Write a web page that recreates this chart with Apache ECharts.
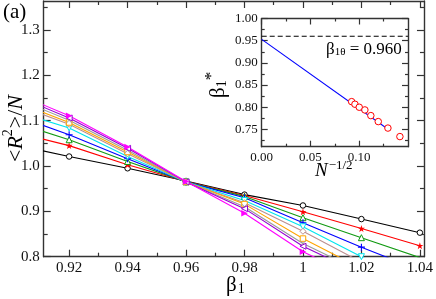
<!DOCTYPE html>
<html><head><meta charset="utf-8">
<script src="https://cdn.jsdelivr.net/npm/echarts@6/dist/echarts.min.js"></script>
<style>html,body{margin:0;padding:0;background:#fff}#c{width:436px;height:299px}</style>
</head><body><div id="c"></div>
<script>
// ---- data ----
const betaX = [0.90, 0.92, 0.94, 0.96, 0.98, 1.00, 1.02, 1.04];
const sBlack   = [1.049, 1.021, 0.995, 0.967, 0.937, 0.913, 0.883, 0.853];
const sRed     = [1.077, 1.045, 1.003, 0.966, 0.935, 0.899, 0.862, 0.824];
const sGreen   = [1.099, 1.058, 1.010, 0.965, 0.933, 0.886, 0.842, 0.798];
const sBlue    = [1.115, 1.069, 1.016, 0.965, 0.930, 0.875, 0.821, 0.770];
const sCyan    = [1.124, 1.084, 1.021, 0.965, 0.924, 0.866, 0.800, 0.745];
const sTan     = [1.140, 1.092, 1.027, 0.965, 0.919, 0.856, 0.788, 0.725];
const sOrange  = [1.146, 1.096, 1.031, 0.965, 0.916, 0.840, 0.774, 0.710];
const sGray    = [1.154, 1.101, 1.035, 0.965, 0.910, 0.829, 0.767, 0.700];
const sPurple  = [1.160, 1.106, 1.039, 0.965, 0.906, 0.823, 0.762, 0.690];
const sMagenta = [1.165, 1.111, 1.042, 0.966, 0.896, 0.811, 0.750, 0.680];

const mainXMajor = [0.92, 0.94, 0.96, 0.98, 1.00, 1.02, 1.04];
const mainXMinor = [0.93, 0.95, 0.97, 0.99, 1.01, 1.03];
const mainYMajor = [0.8, 0.9, 1.0, 1.1, 1.2, 1.3];
const mainYMinor = [0.85, 0.95, 1.05, 1.15, 1.25, 1.35];

const insetX = [0.0922, 0.0956, 0.1000, 0.1058, 0.1119, 0.1195, 0.1294, 0.1417];
const insetY = [0.8126, 0.8068, 0.8000, 0.7939, 0.7811, 0.7676, 0.7530, 0.7338];
const fitX = [0, 0.131];
const fitY = [0.953, 0.748];
const beta1Theta = 0.960;
const insetXMajor = [0.00, 0.05, 0.10];
const insetXMinor = [0.025, 0.075, 0.125];
const insetYMajor = [0.75, 0.80, 0.85, 0.90, 0.95, 1.00];
const insetYMinor = [0.725, 0.775, 0.825, 0.875, 0.925, 0.975];

// ---- styling ----
const SERIF = '"Liberation Serif", "DejaVu Serif", serif';
const FRAME = '#333';
const starPath = 'path://M5,0 L6.2,3.6 L10,3.6 L6.9,5.8 L8.1,9.5 L5,7.2 L1.9,9.5 L3.1,5.8 L0,3.6 L3.8,3.6 Z';
const plusPath = 'path://M4.2,0H5.8V4.2H10V5.8H5.8V10H4.2V5.8H0V4.2H4.2Z';
const xPath = 'path://M1,0L5,4L9,0L10,1L6,5L10,9L9,10L5,6L1,10L0,9L4,5L0,1Z';

// open: true -> white fill, coloured outline
const seriesDefs = [
  {d: sBlack,   c: '#000000', sym: 'circle', open: true, size: 5.5},
  {d: sRed,     c: '#ff0000', sym: starPath, size: 7},
  {d: sGreen,   c: '#119a11', sym: 'triangle', open: true, size: 6},
  {d: sBlue,    c: '#0000ff', sym: plusPath, size: 7},
  {d: sCyan,    c: '#00e5ee', sym: 'triangle', open: true, size: 6, rot: 180},
  {d: sTan,     c: '#bc8f8f', sym: 'diamond', open: true, size: 6},
  {d: sOrange,  c: '#ffa500', sym: 'rect', open: true, size: 5.5},
  {d: sGray,    c: '#9a9a9a', sym: xPath, size: 5.5},
  {d: sPurple,  c: '#9400d3', sym: 'triangle', open: true, size: 6, rot: 90},
  {d: sMagenta, c: '#ff00ff', sym: 'triangle', size: 6.5, rot: -90}
];

const MX = {min: 0.9113, max: 1.0414};
const MY = {min: 0.8, max: 1.364};
const IX = {min: 0, max: 0.15};
const IY = {min: 0.711, max: 1.0};

function axis(base, extra) { return Object.assign({
  type: 'value', splitLine: {show: false}, scale: true,
  axisLine: {show: true, onZero: false, lineStyle: {color: FRAME, width: 1.4}},
  axisLabel: {show: false}, axisTick: {show: false}
}, base, extra); }

function tickAxis(kind, grid, pos, range, major, minor, labels, labelFmt, fs, majorLen, minorLen) {
  const arr = [];
  arr.push(axis(Object.assign({gridIndex: grid, position: pos}, range), {
    axisTick: {show: true, inside: true, length: majorLen, customValues: major, lineStyle: {color: FRAME, width: 1.2}},
    axisLabel: labels ? {show: true, customValues: major, formatter: labelFmt, color: '#111', fontFamily: SERIF, fontSize: fs, margin: 4} : {show: false}
  }));
  arr.push(axis(Object.assign({gridIndex: grid, position: pos}, range), {
    axisLine: {show: false, onZero: false},
    axisTick: {show: true, inside: true, length: minorLen, customValues: minor, lineStyle: {color: FRAME, width: 1.2}}
  }));
  return arr;
}

const xAxes = [].concat(
  tickAxis('x', 0, 'bottom', MX, mainXMajor, mainXMinor, true, v => Math.abs(v - 1) < 1e-9 ? '1' : v.toFixed(2), 15, 7, 4),
  tickAxis('x', 0, 'top', MX, mainXMajor, mainXMinor, false, null, 15, 7, 4),
  tickAxis('x', 1, 'bottom', IX, insetXMajor, insetXMinor, true, v => v.toFixed(2), 13, 6, 3),
  tickAxis('x', 1, 'top', IX, insetXMajor, insetXMinor, false, null, 13, 6, 3)
);
const yAxes = [].concat(
  tickAxis('y', 0, 'left', MY, mainYMajor, mainYMinor, true, v => v.toFixed(1), 15, 7, 4),
  tickAxis('y', 0, 'right', MY, mainYMajor, mainYMinor, false, null, 15, 7, 4),
  tickAxis('y', 1, 'left', IY, insetYMajor, insetYMinor, true, v => v.toFixed(2), 13, 6, 3),
  tickAxis('y', 1, 'right', IY, insetYMajor, insetYMinor, false, null, 13, 6, 3)
);

const series = seriesDefs.map(s => ({
  type: 'line', xAxisIndex: 0, yAxisIndex: 0,
  data: betaX.map((x, i) => [x, s.d[i]]),
  symbol: s.sym, symbolSize: s.size, symbolRotate: s.rot || 0, showAllSymbol: true,
  clip: true, silent: true, animation: false,
  lineStyle: {color: s.c, width: 1.1, type: 'solid'},
  itemStyle: s.open ? {color: '#ffffff', borderColor: s.c, borderWidth: 1} : {color: s.c, borderWidth: 0}
}));

series.push({
  type: 'line', xAxisIndex: 4, yAxisIndex: 4, animation: false, silent: true, z: 5,
  data: fitX.map((x, i) => [x, fitY[i]]), symbol: 'none',
  lineStyle: {color: '#0000ff', width: 1.1, type: 'solid'}
});
series.push({
  type: 'scatter', xAxisIndex: 4, yAxisIndex: 4, animation: false, silent: true, z: 6,
  data: insetX.map((x, i) => [x, insetY[i]]),
  symbol: 'circle', symbolSize: 6.5,
  itemStyle: {color: '#ffffff', borderColor: '#ff0000', borderWidth: 1, opacity: 1}
});
series.push({
  type: 'line', xAxisIndex: 4, yAxisIndex: 4, animation: false, silent: true, z: 5,
  data: [[IX.min, beta1Theta], [IX.max, beta1Theta]], symbol: 'none',
  lineStyle: {color: '#000', width: 1.2, type: [5, 3]}
});

const chart = echarts.init(document.getElementById('c'), null, {renderer: 'canvas'});
chart.setOption({
  backgroundColor: '#fff',
  animation: false,
  grid: [
    {left: 43.7, right: 10.7, top: 1, bottom: 42.3, show: false},
    {left: 261.7, right: 28, top: 18.5, bottom: 152.3, show: true, backgroundColor: '#fff', borderWidth: 0}
  ],
  xAxis: xAxes,
  yAxis: yAxes,
  series: series,
  graphic: [
    {type: 'text', left: 3, top: 2, style: {text: '(a)', font: '21px ' + SERIF, fill: '#000'}},
    {type: 'text', x: 226, y: 270, style: {
      text: '{b|β}{s|1}', fill: '#000',
      rich: {b: {fontFamily: SERIF, fontSize: 21, verticalAlign: 'bottom', lineHeight: 26}, s: {fontFamily: SERIF, fontSize: 14, verticalAlign: 'bottom', lineHeight: 18, padding: [0,0,0,1]}}
    }},
    {type: 'text', x: 1, y: 162, rotation: Math.PI / 2, style: {
      text: '{n|<}{i|R}{p|2}{n|>/}{i|N}', fill: '#000',
      rich: {
        n: {fontFamily: SERIF, fontSize: 22, verticalAlign: 'bottom', lineHeight: 26},
        i: {fontFamily: SERIF, fontStyle: 'italic', fontSize: 22, verticalAlign: 'bottom', lineHeight: 26},
        p: {fontFamily: SERIF, fontSize: 14, verticalAlign: 'top', lineHeight: 26, padding: [0,1,0,0]}
      }
    }},
    {type: 'text', x: 203, y: 98, rotation: Math.PI / 2, z: 10, style: {
      text: '{b|β}{s|1}{p|*}', fill: '#000',
      rich: {
        b: {fontFamily: SERIF, fontSize: 21, verticalAlign: 'bottom', lineHeight: 26},
        s: {fontFamily: SERIF, fontSize: 14, verticalAlign: 'bottom', lineHeight: 20},
        p: {fontFamily: SERIF, fontSize: 17, verticalAlign: 'top', lineHeight: 26}
      }
    }},
    {type: 'text', x: 315, y: 159, z: 10, style: {
      text: '{i|N}{p|−1/2}', fill: '#000',
      rich: {
        i: {fontFamily: SERIF, fontStyle: 'italic', fontSize: 19, verticalAlign: 'bottom', lineHeight: 21},
        p: {fontFamily: SERIF, fontSize: 13, verticalAlign: 'top', lineHeight: 21, padding: [0,0,0,1]}
      }
    }},
    {type: 'text', x: 326, y: 38, z: 10, style: {
      text: '{b|β}{s|1θ}{n| = 0.960}', fill: '#000',
      rich: {
        b: {fontFamily: SERIF, fontSize: 17, verticalAlign: 'bottom', lineHeight: 20},
        s: {fontFamily: SERIF, fontSize: 11, verticalAlign: 'bottom', lineHeight: 15},
        n: {fontFamily: SERIF, fontSize: 17, verticalAlign: 'bottom', lineHeight: 20}
      }
    }}
  ]
});
</script></body></html>
